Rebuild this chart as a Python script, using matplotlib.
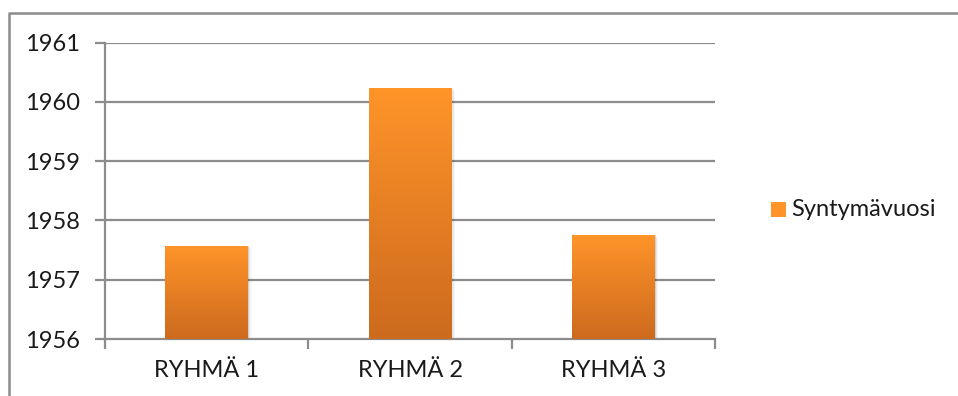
import numpy as np
import matplotlib
matplotlib.use("Agg")
import matplotlib.pyplot as plt
from matplotlib.patches import Rectangle
from matplotlib.lines import Line2D
from matplotlib.colors import LinearSegmentedColormap

categories = ["RYHMÄ 1", "RYHMÄ 2", "RYHMÄ 3"]
values = [1957.57, 1960.23, 1957.75]
series_name = "Syntymävuosi"
yticks = [1956, 1957, 1958, 1959, 1960, 1961]

plt.rcParams["font.family"] = ["Lato", "DejaVu Sans"]

fig = plt.figure(figsize=(9.58, 3.96), dpi=100)
ax = fig.add_axes([105 / 958, 1 - 339 / 396, (715 - 105) / 958, (339 - 42.5) / 396])

grid_col = "#8c8c8c"
text_col = "#1a1a1a"
top_col = "#ff9429"
bot_col = "#cc6a1e"
cmap = LinearSegmentedColormap.from_list("bar", [bot_col, top_col])
fs = 17

ymin, ymax = 1956, 1961

for yv in yticks[1:]:
    ax.axhline(yv, color=grid_col, lw=1.6, zorder=1)

width = 0.405
grad = np.linspace(0, 1, 256).reshape(-1, 1)
for i, v in enumerate(values):
    x0 = i + 0.5 - width / 2
    # soft shadow
    for k, a in enumerate([0.10, 0.06, 0.03]):
        off = 0.006 * (k + 1)
        sh = Rectangle((x0 + off, ymin), width, v - ymin - 0.02 * k,
                       facecolor="black", alpha=a, lw=0, zorder=2)
        ax.add_patch(sh)
    rect = Rectangle((x0, ymin), width, v - ymin, facecolor="none", lw=0, zorder=3)
    ax.add_patch(rect)
    im = ax.imshow(grad, cmap=cmap, origin="lower", aspect="auto",
                   extent=(x0, x0 + width, ymin, v), zorder=3)
    im.set_clip_path(rect)

ax.set_xlim(0, len(categories))
ax.set_ylim(ymin, ymax)

ax.set_yticks(yticks)
ax.set_yticklabels([str(t) for t in yticks], fontsize=fs, color=text_col)
ax.set_xticks(np.arange(len(categories)) + 0.5)
ax.set_xticklabels(categories, fontsize=fs, color=text_col)
ax.set_xticks(np.arange(len(categories) + 1), minor=True)
ax.tick_params(axis="x", which="major", length=0, pad=15)
ax.tick_params(axis="x", which="minor", length=7, width=1.6, color=grid_col)
ax.tick_params(axis="y", which="major", length=7, width=1.6, color=grid_col, pad=11)

for s in ["top", "right"]:
    ax.spines[s].set_visible(False)
for s in ["left", "bottom"]:
    ax.spines[s].set_color(grid_col)
    ax.spines[s].set_linewidth(1.6)
ax.set_facecolor("white")

# legend
lx, ly = 771 / 958, 1 - 217 / 396
fig.patches.append(Rectangle((lx, ly), 15 / 958, 15 / 396, transform=fig.transFigure,
                             facecolor=top_col, edgecolor="none"))
fig.text(791 / 958, 1 - 210 / 396, series_name, fontsize=fs, color=text_col,
         va="center", ha="left")

# chart area frame (top and left edges)
fy = 1 - 13 / 396
fx = 9 / 958
fig.lines.append(Line2D([fx, fx, 1.0], [0.0, fy, fy], transform=fig.transFigure,
                        color=grid_col, lw=1.8))

fig.savefig("out.png", dpi=100, facecolor="white")
